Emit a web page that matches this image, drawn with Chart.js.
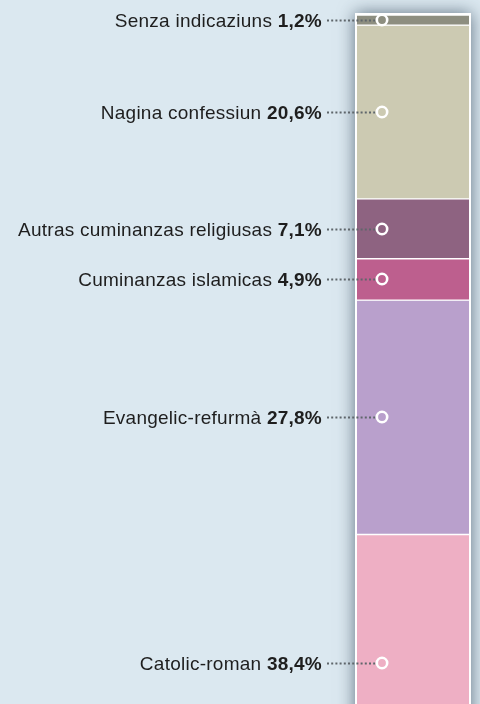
<!DOCTYPE html>
<html>
<head>
<meta charset="utf-8">
<script src="https://cdn.jsdelivr.net/npm/chart.js@4/dist/chart.umd.min.js"></script>
<style>
html,body{margin:0;padding:0;background:#dbe8f0;}
#wrap{position:relative;width:480px;height:704px;}
</style>
</head>
<body>
<div id="wrap"><canvas id="c" width="480" height="704"></canvas></div>
<script>
const categories = ["Senza indicaziuns", "Nagina confessiun", "Autras cuminanzas religiusas", "Cuminanzas islamicas", "Evangelic-refurmà", "Catolic-roman"];
const shares = [1.2, 20.6, 7.1, 4.9, 27.8, 38.4];
const colors = ["#8d8e80", "#cccab2", "#8e6381", "#bd5f8e", "#b9a0cc", "#eeafc4"];
const visibleMax = 81.7;

const fontName = "'Liberation Sans', Arial, sans-serif";

const framePlugin = {
  id: 'frame',
  beforeDatasetsDraw(chart) {
    const ctx = chart.ctx, a = chart.chartArea;
    ctx.save();
    ctx.shadowColor = 'rgba(30,50,70,0.65)';
    ctx.shadowBlur = 16;
    ctx.fillStyle = '#ffffff';
    ctx.fillRect(a.left - 2, a.top - 2, a.right - a.left + 4, a.bottom - a.top + 40);
    ctx.restore();
  },
  afterDatasetsDraw(chart) {
    const ctx = chart.ctx, a = chart.chartArea, ys = chart.scales.y;
    let cum = 0;
    ctx.save();
    shares.forEach((v, i) => {
      let y = ys.getPixelForValue(cum + v / 2);
      cum += v;
      y = Math.min(y, a.bottom - 41);
      y = Math.round(y);
      const cx = a.left + 25;
      const labelRight = 322;
      const valTxt = v.toFixed(1).replace('.', ',') + '%';
      ctx.textBaseline = 'alphabetic';
      ctx.textAlign = 'right';
      ctx.fillStyle = '#1e1e1e';
      if ('letterSpacing' in ctx) ctx.letterSpacing = '0.25px';
      ctx.font = 'bold 19px ' + fontName;
      ctx.fillText(valTxt, labelRight, y + 7);
      const vw = ctx.measureText(valTxt).width;
      ctx.font = '19px ' + fontName;
      ctx.fillText(categories[i] + ' ', labelRight - vw, y + 7);
      if ('letterSpacing' in ctx) ctx.letterSpacing = '0px';
      ctx.beginPath();
      ctx.setLineDash([2, 2.2]);
      ctx.lineWidth = 2;
      ctx.strokeStyle = '#5f666b';
      ctx.moveTo(labelRight + 5, y + 0.5);
      ctx.lineTo(cx - 5, y + 0.5);
      ctx.stroke();
      ctx.setLineDash([]);
      ctx.beginPath();
      ctx.lineWidth = 2.6;
      ctx.strokeStyle = '#ffffff';
      ctx.arc(cx, y, 5.2, 0, Math.PI * 2);
      ctx.stroke();
    });
    ctx.restore();
  }
};

new Chart(document.getElementById('c'), {
  type: 'bar',
  data: {
    labels: ['Total'],
    datasets: categories.map((c, i) => ({
      label: c,
      data: [shares[i]],
      backgroundColor: colors[i],
      borderColor: '#ffffff',
      borderWidth: {top: 1, bottom: 1, left: 0, right: 0},
      borderSkipped: false,
      barPercentage: 1,
      categoryPercentage: 1
    }))
  },
  options: {
    responsive: false,
    animation: false,
    events: [],
    layout: {padding: {left: 357, right: 11, top: 15, bottom: 0}},
    plugins: {legend: {display: false}, tooltip: {enabled: false}},
    scales: {
      x: {display: false, stacked: true},
      y: {display: false, stacked: true, reverse: true, min: 0, max: visibleMax}
    }
  },
  plugins: [framePlugin]
});
</script>
</body>
</html>
